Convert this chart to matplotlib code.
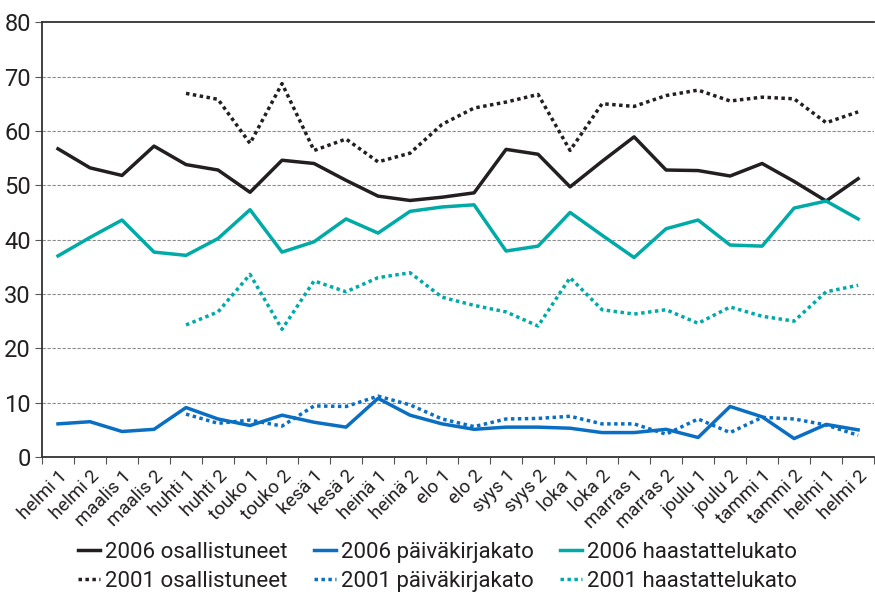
import matplotlib
matplotlib.use("Agg")
import matplotlib.pyplot as plt
import numpy as np

plt.rcParams['font.family'] = ['Roboto', 'DejaVu Sans']

categories = ["helmi 1", "helmi 2", "maalis 1", "maalis 2", "huhti 1", "huhti 2",
              "touko 1", "touko 2", "kesä 1", "kesä 2", "heinä 1", "heinä 2",
              "elo 1", "elo 2", "syys 1", "syys 2", "loka 1", "loka 2",
              "marras 1", "marras 2", "joulu 1", "joulu 2", "tammi 1", "tammi 2",
              "helmi 1", "helmi 2"]

nan = np.nan
osall_2006 = [56.7, 53.2, 51.8, 57.2, 53.8, 52.8, 48.7, 54.6, 54.0, 50.9, 48.0, 47.2,
              47.8, 48.6, 56.6, 55.7, 49.7, 54.4, 58.9, 52.8, 52.7, 51.7, 54.0, 50.7,
              47.1, 51.2]
paiva_2006 = [6.1, 6.5, 4.7, 5.1, 9.1, 7.0, 5.8, 7.7, 6.4, 5.5, 10.8, 7.7,
              6.1, 5.1, 5.5, 5.5, 5.3, 4.5, 4.5, 5.1, 3.6, 9.3, 7.4, 3.4,
              6.0, 5.0]
haast_2006 = [37.0, 40.4, 43.6, 37.7, 37.1, 40.2, 45.5, 37.7, 39.6, 43.8, 41.2, 45.2,
              46.0, 46.4, 37.9, 38.8, 45.0, 40.8, 36.7, 42.0, 43.6, 39.0, 38.8, 45.8,
              47.1, 43.8]
osall_2001 = [nan, nan, nan, nan, 66.9, 65.8, 57.7, 68.7, 56.4, 58.5, 54.3, 55.9,
              61.2, 64.2, 65.3, 66.7, 56.4, 65.0, 64.5, 66.5, 67.5, 65.5, 66.2, 65.9,
              61.5, 63.5]
paiva_2001 = [nan, nan, nan, nan, 7.9, 6.2, 6.8, 5.7, 9.4, 9.3, 11.2, 9.6,
              7.0, 5.6, 7.0, 7.1, 7.5, 6.1, 6.1, 4.2, 7.0, 4.5, 7.3, 7.0,
              5.9, 4.0]
haast_2001 = [nan, nan, nan, nan, 24.3, 26.7, 33.6, 23.5, 32.4, 30.4, 33.0, 33.9,
              29.4, 27.9, 26.7, 24.1, 33.0, 27.1, 26.3, 27.1, 24.6, 27.6, 25.9, 25.0,
              30.4, 31.6]

BLACK = "#231f20"
BLUE = "#0a6fc2"
TEAL = "#00aaa7"

fig = plt.figure(figsize=(8.75, 5.99), dpi=100)
ax = fig.add_axes([0.048, 0.237, 0.951, 0.726])

x = np.arange(len(categories))
lw = 2.5
dot = (0, (1.0, 1.0))
l1, = ax.plot(x, osall_2006, color=BLACK, lw=lw, label="2006 osallistuneet")
l2, = ax.plot(x, paiva_2006, color=BLUE, lw=lw, label="2006 päiväkirjakato")
l3, = ax.plot(x, haast_2006, color=TEAL, lw=lw, label="2006 haastattelukato")
l4, = ax.plot(x, osall_2001, color=BLACK, lw=lw, ls=dot, label="2001 osallistuneet")
l5, = ax.plot(x, paiva_2001, color=BLUE, lw=lw, ls=dot, label="2001 päiväkirjakato")
l6, = ax.plot(x, haast_2001, color=TEAL, lw=lw, ls=dot, label="2001 haastattelukato")

ax.set_xlim(-0.5, len(categories) - 0.5)
ax.set_ylim(0, 80)
ax.set_yticks(np.arange(0, 81, 10))
for v in range(10, 80, 10):
    ax.axhline(v, color="#8c8c8c", lw=0.8, ls=(0, (3, 1.5)), zorder=0)

ax.set_xticks(x)
ax.set_xticklabels(categories, rotation=45, ha="right", rotation_mode="anchor",
                   fontsize=13.5, color="#231f20")
ax.set_xticks(np.arange(-0.5, len(categories), 1), minor=True)
ax.tick_params(axis="x", which="major", length=0, pad=7)
ax.tick_params(axis="x", which="minor", length=5, width=0.8, color="#555555")
ax.tick_params(axis="y", length=5, width=0.8, labelsize=17, color="#555555",
               labelcolor="#231f20", pad=3)

for s in ["left", "bottom", "top"]:
    ax.spines[s].set_color("#333333")
    ax.spines[s].set_linewidth(1.3)
ax.spines["right"].set_visible(False)

handles = [l1, l4, l2, l5, l3, l6]
fig.legend(handles, [h.get_label() for h in handles], ncol=3, loc="center",
           bbox_to_anchor=(0.5, 0.054), frameon=False, fontsize=16,
           handlelength=1.0, handletextpad=0.2, columnspacing=1.2,
           labelspacing=0.35, labelcolor="#231f20")

fig.savefig("out.png", dpi=100)
